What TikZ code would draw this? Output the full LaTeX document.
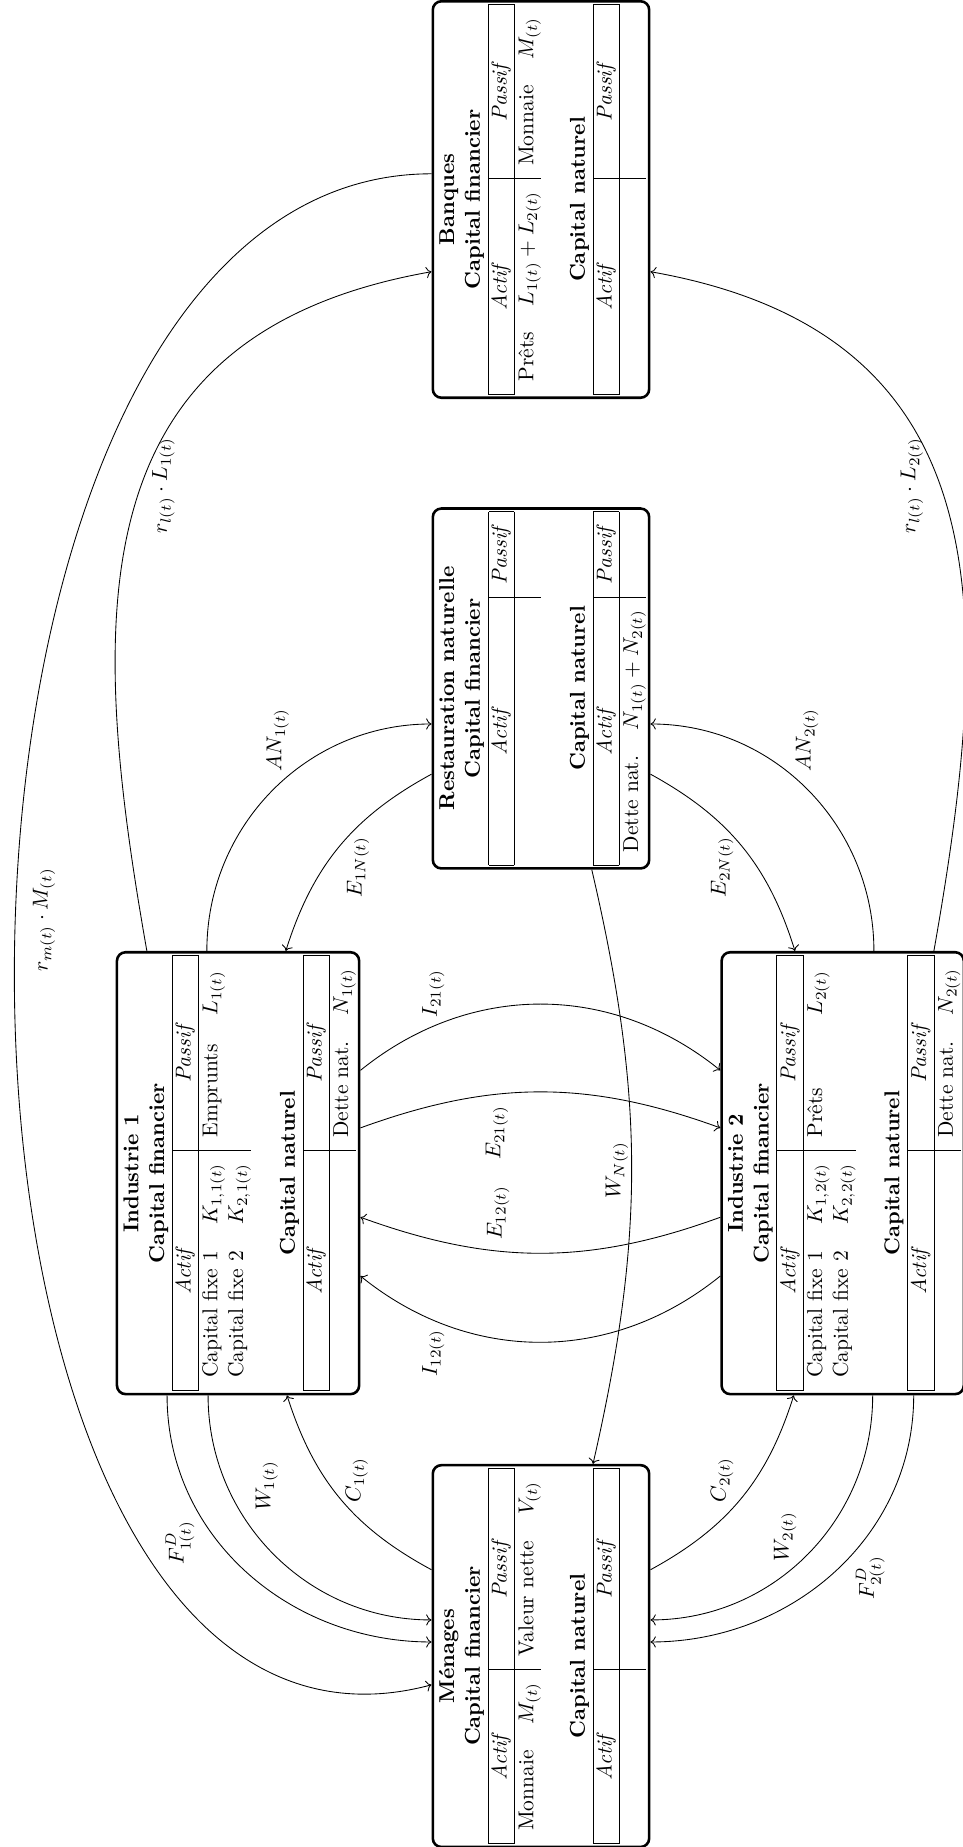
\documentclass[tikz,border=0pt]{standalone}
\usepackage{amsmath, amssymb}
\usepackage{tikz}
\usetikzlibrary{arrows.meta, calc}
\tikzset{
  sector/.style={draw, very thick, rounded corners=4pt, inner sep=1.5pt, fill=white},
  flow/.style={->, thin},
  flowlabel/.style={inner sep=1pt}
}

\begin{document}
\begin{tikzpicture}[rotate=90, transform shape]
    \useasboundingbox (0,0) rectangle (30.18,15.72);

    \node (ban) [sector] at (26.92, 6.88) {\begin{tabular}{ll|ll}
        \multicolumn{4}{c}{\textbf{Banques}}\\
        \multicolumn{4}{c}{\textbf{Capital financier}}\\ \hline
        \multicolumn{2}{|c|}{\textit{Actif}} & \multicolumn{2}{|c|}{\textit{Passif}}\\ \hline
        Prêts & $L_{1(t)}+L_{2(t)}$ & Monnaie & $M_{(t)}$\\
        \multicolumn{4}{c}{}\\
        \multicolumn{4}{c}{\textbf{Capital naturel}}\\ \hline
        \multicolumn{2}{|c|}{\textit{Actif}} & \multicolumn{2}{|c|}{\textit{Passif}}\\ \hline
        & & &
      \end{tabular}};
    \node (res) [sector] at (18.93, 6.88) {\begin{tabular}{ll|ll}
        \multicolumn{4}{c}{\textbf{Restauration naturelle}}\\
        \multicolumn{4}{c}{\textbf{Capital financier}}\\ \hline
        \multicolumn{2}{|c|}{\textit{Actif}} & \multicolumn{2}{|c|}{\textit{Passif}}\\ \hline
        & & & \\
        \multicolumn{4}{c}{}\\
        \multicolumn{4}{c}{\textbf{Capital naturel}}\\ \hline
        \multicolumn{2}{|c|}{\textit{Actif}} & \multicolumn{2}{|c|}{\textit{Passif}}\\ \hline
        Dette nat. & $N_{1(t)}+N_{2(t)}$ & &
      \end{tabular}};
    \node (men) [sector] at (3.12, 6.88) {\begin{tabular}{ll|ll}
        \multicolumn{4}{c}{\textbf{Ménages}}\\
        \multicolumn{4}{c}{\textbf{Capital financier}}\\ \hline
        \multicolumn{2}{|c|}{\textit{Actif}} & \multicolumn{2}{|c|}{\textit{Passif}}\\ \hline
        Monnaie & $M_{(t)}$ & Valeur nette & $V_{(t)}$\\
        \multicolumn{4}{c}{}\\
        \multicolumn{4}{c}{\textbf{Capital naturel}}\\ \hline
        \multicolumn{2}{|c|}{\textit{Actif}} & \multicolumn{2}{|c|}{\textit{Passif}}\\ \hline
        & & &
      \end{tabular}};
    \node (ind1) [sector] at (11.01, 11.83) {\begin{tabular}{ll|ll}
        \multicolumn{4}{c}{\textbf{Industrie 1}}\\
        \multicolumn{4}{c}{\textbf{Capital financier}}\\ \hline
        \multicolumn{2}{|c|}{\textit{Actif}} & \multicolumn{2}{|c|}{\textit{Passif}}\\ \hline
        Capital fixe 1 & $K_{1,1(t)}$ & Emprunts & $L_{1(t)}$\\
        Capital fixe 2 & $K_{2,1(t)}$ & & \\
        \multicolumn{4}{c}{}\\
        \multicolumn{4}{c}{\textbf{Capital naturel}}\\ \hline
        \multicolumn{2}{|c|}{\textit{Actif}} & \multicolumn{2}{|c|}{\textit{Passif}}\\ \hline
        & & Dette nat. & $N_{1(t)}$
      \end{tabular}};
    \node (ind2) [sector] at (11.01, 1.95) {\begin{tabular}{ll|ll}
        \multicolumn{4}{c}{\textbf{Industrie 2}}\\
        \multicolumn{4}{c}{\textbf{Capital financier}}\\ \hline
        \multicolumn{2}{|c|}{\textit{Actif}} & \multicolumn{2}{|c|}{\textit{Passif}}\\ \hline
        Capital fixe 1 & $K_{1,2(t)}$ & Prêts & $L_{2(t)}$\\
        Capital fixe 2 & $K_{2,2(t)}$ & & \\
        \multicolumn{4}{c}{}\\
        \multicolumn{4}{c}{\textbf{Capital naturel}}\\ \hline
        \multicolumn{2}{|c|}{\textit{Actif}} & \multicolumn{2}{|c|}{\textit{Passif}}\\ \hline
        & & Dette nat. & $N_{2(t)}$
      \end{tabular}};

    % flux autour des banques
    \draw[flow] ($(ban.north)+(0.42,0)$) to[out=90, in=105, looseness=0.96] ($(men.north)+(-0.47,0)$);
    \draw[flow] ($(ind1.east)+(0,1.49)$) to[out=10, in=100, out looseness=1.2, in looseness=1.25] ($(ban.north)+(-1.18,0)$);
    \draw[flow] ($(ind2.east)+(0,-1.49)$) to[out=-10, in=-100, out looseness=1.2, in looseness=1.25] ($(ban.south)+(-1.18,0)$);

    % restauration naturelle
    \draw[flow] ($(ind1.east)+(0,0.51)$) to[out=0, in=90] ($(res.north)+(-0.58,0)$);
    \draw[flow] ($(res.north)+(-1.40,0)$) to[bend right=22] ($(ind1.east)+(0,-0.78)$);
    \draw[flow] ($(ind2.east)+(0,-0.51)$) to[out=0, in=-90] ($(res.south)+(-0.58,0)$);
    \draw[flow] ($(res.south)+(-1.40,0)$) to[bend left=22] ($(ind2.east)+(0,0.78)$);
    \draw[flow] ($(res.west)+(0,-0.83)$) to[bend left=13] ($(men.east)+(0,-0.85)$);

    % entre industries
    \draw[flow] ($(ind1.south)+(1.68,0)$) to[bend left=39] ($(ind2.north)+(1.68,0)$);
    \draw[flow] ($(ind1.south)+(0.74,0)$) to[bend left=20] ($(ind2.north)+(0.74,0)$);
    \draw[flow] ($(ind2.north)+(-0.72,0)$) to[bend left=20] ($(ind1.south)+(-0.72,0)$);
    \draw[flow] ($(ind2.north)+(-1.68,0)$) to[bend left=39] ($(ind1.south)+(-1.68,0)$);

    % menages
    \draw[flow] ($(men.north)+(1.41,0)$) to[bend left=22] ($(ind1.west)+(0,-0.80)$);
    \draw[flow] ($(ind1.west)+(0,0.49)$) to[out=180, in=90] ($(men.north)+(0.59,0)$);
    \draw[flow] ($(ind1.west)+(0,1.16)$) to[out=180, in=90] ($(men.north)+(0.23,0)$);
    \draw[flow] ($(men.south)+(1.41,0)$) to[bend right=22] ($(ind2.west)+(0,0.80)$);
    \draw[flow] ($(ind2.west)+(0,-0.49)$) to[out=180, in=-90] ($(men.south)+(0.59,0)$);
    \draw[flow] ($(ind2.west)+(0,-1.16)$) to[out=180, in=-90] ($(men.south)+(0.23,0)$);

    % etiquettes
    \node (lrm) [flowlabel] at (15.15, 15.0) {$r_{m(t)}\cdot M_{(t)}$};
    \node (lrl1) [flowlabel] at (22.25, 13.05) {$r_{l(t)}\cdot L_{1(t)}$};
    \node (lrl2) [flowlabel] at (22.25, 0.82) {$r_{l(t)}\cdot L_{2(t)}$};
    \node (lan1) [flowlabel] at (18.09, 11.18) {$AN_{1(t)}$};
    \node (le1n) [flowlabel] at (16.01, 9.87) {$E_{1N(t)}$};
    \node (lan2) [flowlabel] at (18.09, 2.53) {$AN_{2(t)}$};
    \node (le2n) [flowlabel] at (16.01, 3.92) {$E_{2N(t)}$};
    \node (li21) [flowlabel] at (13.95, 8.64) {$I_{21(t)}$};
    \node (le21) [flowlabel] at (11.67, 7.60) {$E_{21(t)}$};
    \node (le12) [flowlabel] at (10.36, 7.58) {$E_{12(t)}$};
    \node (li12) [flowlabel] at (8.07, 8.64) {$I_{12(t)}$};
    \node (lwn) [flowlabel] at (11.06, 5.64) {$W_{N(t)}$};
    \node (lc1) [flowlabel] at (6.00, 9.89) {$C_{1(t)}$};
    \node (lw1) [flowlabel] at (5.90, 11.36) {$W_{1(t)}$};
    \node (lf1) [flowlabel] at (4.97, 12.78) {$F^D_{1(t)}$};
    \node (lc2) [flowlabel] at (6.00, 3.92) {$C_{2(t)}$};
    \node (lw2) [flowlabel] at (5.07, 2.89) {$W_{2(t)}$};
    \node (lf2) [flowlabel] at (4.40, 1.50) {$F^D_{2(t)}$};
\end{tikzpicture}
\end{document}
